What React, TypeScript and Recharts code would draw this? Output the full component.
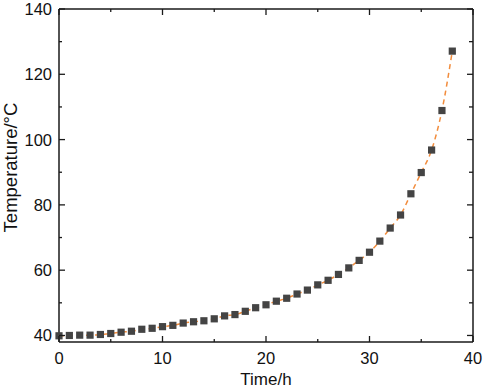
import { ComposedChart, Line, XAxis, YAxis, Label } from 'recharts'

const hours = [
  0, 1, 2, 3, 4, 5, 6, 7, 8, 9, 10, 11, 12, 13, 14, 15, 16, 17, 18, 19,
  20, 21, 22, 23, 24, 25, 26, 27, 28, 29, 30, 31, 32, 33, 34, 35, 36, 37, 38,
]
const temperature = [
  39.9, 40.0, 40.1, 40.1, 40.3, 40.6, 41.0, 41.3, 41.9, 42.2, 42.7, 43.1, 43.8, 44.2, 44.5, 45.1, 46.0, 46.4, 47.4, 48.5,
  49.4, 50.5, 51.4, 52.7, 53.9, 55.5, 56.9, 58.7, 60.7, 63.0, 65.5, 68.9, 72.9, 76.9, 83.4, 89.9, 96.8, 108.9, 127.1,
]
const xTicks = [0, 5, 10, 15, 20, 25, 30, 35, 40]
const yTicks = [40, 50, 60, 70, 80, 90, 100, 110, 120, 130, 140]

const data = hours.map((h, i) => ({ time: h, temp: temperature[i] }))

const FONT = '"Liberation Sans", Arial, sans-serif'
const AXIS = '#1a1a1a'

const BottomTick = ({ x, y, payload }: any) => {
  const major = payload.value % 10 === 0
  return (
    <g>
      <line x1={x} x2={x} y1={y} y2={y - (major ? 6 : 3)} stroke={AXIS} strokeWidth={1.3} />
      {major && (
        <text x={x} y={y + 22} textAnchor="middle" fontSize={16.5} fontFamily={FONT} fill="#111">
          {payload.value}
        </text>
      )}
    </g>
  )
}

const TopTick = ({ x, y, payload }: any) => {
  const major = payload.value % 10 === 0
  return <line x1={x} x2={x} y1={y} y2={y + (major ? 6 : 3)} stroke={AXIS} strokeWidth={1.3} />
}

const LeftTick = ({ x, y, payload }: any) => {
  const major = payload.value % 20 === 0
  return (
    <g>
      <line x1={x} x2={x + (major ? 6 : 3)} y1={y} y2={y} stroke={AXIS} strokeWidth={1.3} />
      {major && (
        <text x={x - 7} y={y + 6} textAnchor="end" fontSize={16.5} fontFamily={FONT} fill="#111">
          {payload.value}
        </text>
      )}
    </g>
  )
}

const RightTick = ({ x, y, payload }: any) => {
  const major = payload.value % 20 === 0
  return <line x1={x} x2={x - (major ? 6 : 4)} y1={y} y2={y} stroke={AXIS} strokeWidth={1.3} />
}

const SquareDot = ({ cx, cy }: any) => {
  if (cx == null || cy == null) return null
  return <rect x={cx - 3.6} y={cy - 3.6} width={7.2} height={7.2} fill="#444444" />
}

export default function App() {
  return (
    <div style={{ position: 'absolute', left: 0, top: 0, background: '#fff' }}>
      <ComposedChart width={484} height={388} data={data} margin={{ top: 8, right: 10, bottom: 0, left: 0 }}>
        <XAxis
          xAxisId="bottom"
          dataKey="time"
          type="number"
          domain={[0, 40]}
          ticks={xTicks}
          interval={0}
          height={46}
          tickSize={0}
          tickMargin={0}
          tick={<BottomTick />}
          axisLine={{ stroke: AXIS, strokeWidth: 1.5 }}
          tickLine={false}
        >
          <Label
            content={({ viewBox }: any) => (
              <text
                x={viewBox.x + viewBox.width / 2}
                y={viewBox.y + 43}
                textAnchor="middle"
                fontSize={17}
                fontFamily={FONT}
                fill="#111"
              >
                Time/h
              </text>
            )}
          />
        </XAxis>
        <XAxis
          xAxisId="top"
          dataKey="time"
          orientation="top"
          type="number"
          domain={[0, 40]}
          ticks={xTicks}
          interval={0}
          height={1}
          tickSize={0}
          tickMargin={0}
          tick={<TopTick />}
          axisLine={{ stroke: AXIS, strokeWidth: 1.5 }}
          tickLine={false}
        />
        <YAxis
          yAxisId="left"
          type="number"
          domain={[38, 140]}
          ticks={yTicks}
          interval={0}
          width={59}
          tickSize={0}
          tickMargin={0}
          tick={<LeftTick />}
          axisLine={{ stroke: AXIS, strokeWidth: 1.5 }}
          tickLine={false}
        >
          <Label
            content={({ viewBox }: any) => {
              const cx = 17
              const cy = viewBox.y + viewBox.height / 2 - 8
              return (
                <text
                  x={cx}
                  y={cy}
                  transform={`rotate(-90 ${cx} ${cy})`}
                  textAnchor="middle"
                  fontSize={18.5}
                  fontFamily={FONT}
                  fill="#111"
                >
                  Temperature/°C
                </text>
              )
            }}
          />
        </YAxis>
        <YAxis
          yAxisId="right"
          orientation="right"
          type="number"
          domain={[38, 140]}
          ticks={yTicks}
          interval={0}
          width={1}
          tickSize={0}
          tickMargin={0}
          tick={<RightTick />}
          axisLine={{ stroke: AXIS, strokeWidth: 1.5 }}
          tickLine={false}
        />
        <Line
          xAxisId="top"
          yAxisId="right"
          dataKey="temp"
          stroke="none"
          dot={false}
          activeDot={false}
          legendType="none"
          isAnimationActive={false}
        />
        <Line
          xAxisId="bottom"
          yAxisId="left"
          type="monotone"
          dataKey="temp"
          stroke="#f28c3c"
          strokeWidth={1.5}
          strokeDasharray="5 4"
          dot={<SquareDot />}
          activeDot={false}
          isAnimationActive={false}
        />
      </ComposedChart>
    </div>
  )
}
